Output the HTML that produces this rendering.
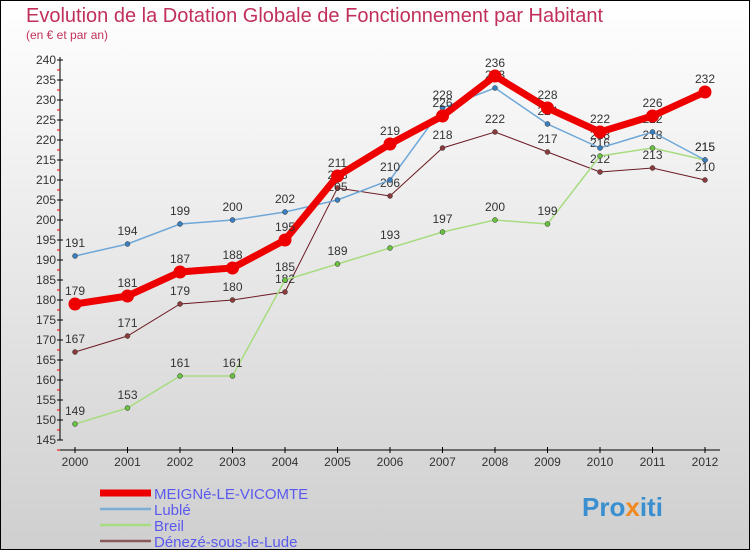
<!DOCTYPE html>
<html><head><meta charset="utf-8"><style>
body{margin:0;width:750px;height:550px;overflow:hidden;font-family:"Liberation Sans",sans-serif}
</style></head><body>
<svg id="c" width="750" height="550" xmlns="http://www.w3.org/2000/svg">
<defs><linearGradient id="bg" x1="0" y1="0" x2="0" y2="1"><stop offset="0" stop-color="#ffffff"/><stop offset="1" stop-color="#cfcfcf"/></linearGradient></defs>
<rect x="0.5" y="0.5" width="749" height="549" fill="url(#bg)" stroke="#000"/>
<text x="26" y="22" font-size="20" fill="#c0305a">Evolution de la Dotation Globale de Fonctionnement par Habitant</text>
<text x="26" y="39" font-size="12" fill="#c0305a">(en € et par an)</text>
<g id="axes"></g><g id="series"></g><g id="legend"></g>
<text x="582" y="516" font-size="26" font-weight="bold" fill="#3a8fd0">Pro<tspan fill="#f08a20">x</tspan>iti</text>
</svg>
<script>
const years=["2000","2001","2002","2003","2004","2005","2006","2007","2008","2009","2010","2011","2012"];
const yTicks=[145,150,155,160,165,170,175,180,185,190,195,200,205,210,215,220,225,230,235,240];
const meigne=[179,181,187,188,195,211,219,226,236,228,222,226,232];
const luble=[191,194,199,200,202,205,210,228,233,224,218,222,215];
const breil=[149,153,161,161,185,189,193,197,200,199,216,218,215];
const deneze=[167,171,179,180,182,208,206,218,222,217,212,213,210];
const NS="http://www.w3.org/2000/svg";
const X=i=>75+i*52.5, Y=v=>440-(v-145)*4;
function mk(p,t,a){const e=document.createElementNS(NS,t);for(const k in a)e.setAttribute(k,a[k]);p.appendChild(e);return e;}
const ax=document.getElementById('axes');
const yl=mk(ax,'line',{x1:60,y1:57,x2:60,y2:440,stroke:'#000'});


const xl=mk(ax,'line',{x1:60,y1:450,x2:720,y2:450,stroke:'#000'});


yTicks.forEach(v=>{
 mk(ax,'line',{x1:57,y1:Y(v),x2:63,y2:Y(v),stroke:'#000'});
 mk(ax,'line',{x1:57,y1:Y(v)+10,x2:60,y2:Y(v)+10,stroke:'#e00'});
 const t=mk(ax,'text',{x:56,y:Y(v)+4,'font-size':12,'text-anchor':'end',fill:'#333'});t.textContent=v;
 
 
});
years.forEach((y,i)=>{
 mk(ax,'line',{x1:X(i),y1:447,x2:X(i),y2:453,stroke:'#000'});
 const t=mk(ax,'text',{x:X(i),y:466,'font-size':12,'text-anchor':'middle',fill:'#333'});t.textContent=y;
 
 
});
const S=[[deneze,'#6b1a22','#8a3a3a',1,5,'deneze-sous-le-lude'],[breil,'#a8dc80','#6ac040',1.5,5,'breil'],[luble,'#6fa8d8','#3a80c0',1.5,5,'luble'],[meigne,'#ee0000','#ee0000',7,13,'meigne-le-vicomte']];
const sg=document.getElementById('series');
S.forEach(([d,lc,pc,w,r,n])=>{
 const g=mk(sg,'g',{});
 
 
 mk(g,'polyline',{points:d.map((v,i)=>X(i)+','+Y(v)).join(' '),fill:'none',stroke:lc,'stroke-width':w});
 d.forEach((v,i)=>{
  const c=mk(g,'circle',{cx:X(i),cy:Y(v),r:r/2,fill:pc,stroke:w>5?'none':'#333','stroke-width':0.5});
  
  
  const t=mk(g,'text',{x:X(i),y:Y(v)-9,'font-size':12,'text-anchor':'middle',fill:'#333'});t.textContent=v;
  
  
 });
});
const lg=document.getElementById('legend');
[['MEIGNé-LE-VICOMTE','#ee0000',7],['Lublé','#7aaed6',2.5],['Breil','#a8dc80',2.5],['Dénezé-sous-le-Lude','#8a5a5a',2.5]].forEach(([n,c,w],i)=>{
 const y=493+i*16;
 const g=mk(lg,'g',{});
 
 
 mk(g,'line',{x1:100,y1:y,x2:151,y2:y,stroke:c,'stroke-width':w});
 const t=mk(g,'text',{x:154,y:y+6,'font-size':15,fill:'#5a5aee'});t.textContent=n;
});
</script>
</body></html>
